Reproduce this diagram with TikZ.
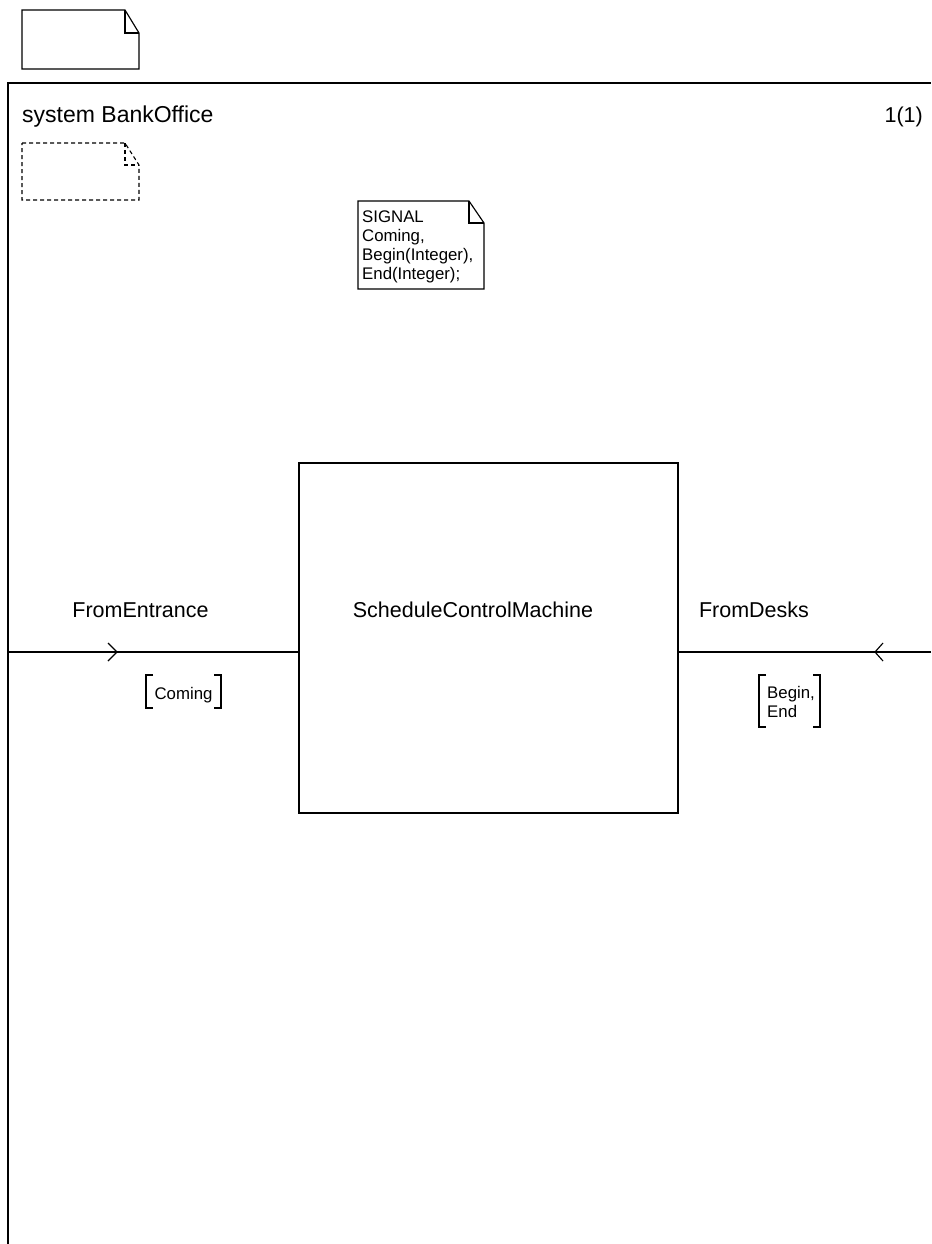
\documentclass[tikz,border=0pt]{standalone}
\usepackage{fontspec}
\setmainfont{Liberation Sans}
\begin{document}
\begin{tikzpicture}[x=1pt,y=-1pt,
  bigtext/.style={font=\fontsize{21.5}{24}\selectfont, inner sep=0pt},
  titletext/.style={font=\fontsize{23}{26}\selectfont, inner sep=0pt},
  smalltext/.style={font=\fontsize{16.8}{19.3}\selectfont, inner sep=0pt},
  frameline/.style={line width=1.4pt},
  thin/.style={line width=1.15pt},
  dashnote/.style={line width=1.1pt, dash pattern=on 4pt off 3pt}]
\useasboundingbox[fill=white] (0,0) rectangle (931,1244);

% top document symbol
\draw[thin] (22,10) -- (125,10) -- (139,33) -- (139,69) -- (22,69) -- cycle;
\draw[thin] (125,10) -- (125,33) -- (139,33);

% frame
\coordinate (fbl) at (8,1244);
\coordinate (ftl) at (8,83);
\coordinate (ftr) at (931,83);
\draw[frameline] (fbl) -- (ftl) -- (ftr);

\node[titletext, anchor=base west] (title) at (22,122) {system BankOffice};
\node[bigtext, anchor=base east] (page) at (923,122) {1(1)};

% dashed document symbol
\draw[dashnote] (22,143) -- (125,143) -- (139,165) -- (139,200) -- (22,200) -- cycle;
\draw[dashnote] (125,143) -- (125,165) -- (139,165);

% signal note
\draw[thin] (358,201) -- (469,201) -- (484,223) -- (484,289) -- (358,289) -- cycle;
\draw[thin] (469,201) -- (469,223) -- (484,223);
\node[smalltext, anchor=base west] (sig) at (362,222)
  {\vtop{\baselineskip=19.3pt\hbox{SIGNAL}\hbox{Coming,}\hbox{Begin(Integer),}\hbox{End(Integer);}}};

% block
\node[draw, thin, minimum width=379pt, minimum height=350pt, inner sep=0pt] (scm) at (488.5,638) {};
\node[bigtext, anchor=base] (scmtext) at (473,617) {ScheduleControlMachine};

% channels
\coordinate (lin) at (8,652);
\coordinate (rin) at (931,652);
\draw[thin] (lin) -- (lin -| scm.west);
\draw[thin] (rin) -- (rin -| scm.east);
\draw[thin] (108,643) -- (117,652) -- (108,661);
\draw[thin] (883,643) -- (875,652) -- (883,661);

\node[bigtext, anchor=base] (fe) at (140.5,617) {FromEntrance};
\node[bigtext, anchor=base] (fd) at (754,617) {FromDesks};

% signal lists
\node[smalltext, anchor=base] (sl1) at (183.5,699) {Coming};
\draw[thin] (153,675) -- (146,675) -- (146,708) -- (153,708);
\draw[thin] (214,675) -- (221,675) -- (221,708) -- (214,708);

\node[smalltext, anchor=base west] (sl2) at (767,698)
  {\vtop{\baselineskip=19pt\hbox{Begin,}\hbox{End}}};
\draw[thin] (766,675) -- (759,675) -- (759,727) -- (766,727);
\draw[thin] (813,675) -- (820,675) -- (820,727) -- (813,727);
\end{tikzpicture}
\end{document}
